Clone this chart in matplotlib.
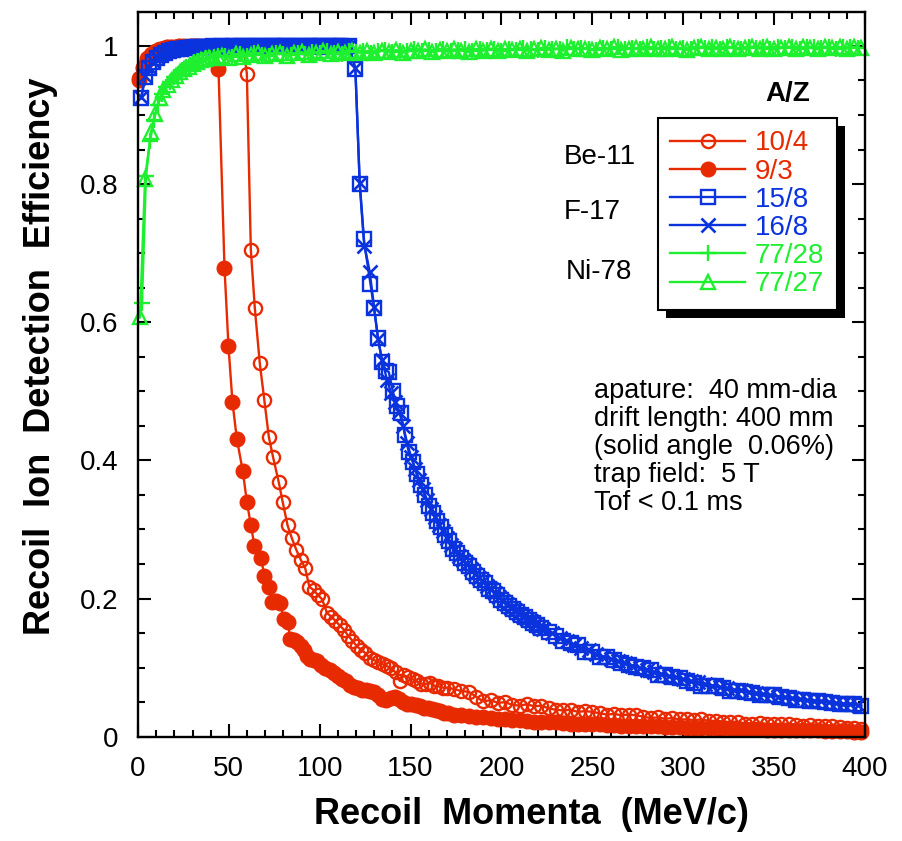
import numpy as np
import matplotlib
matplotlib.use('Agg')
import matplotlib.pyplot as plt
from matplotlib.patches import Rectangle
from matplotlib.ticker import MultipleLocator, FuncFormatter

plt.rcParams['font.family'] = ['Liberation Sans', 'DejaVu Sans']

# values
# recoil momentum (MeV/c) -> recoil ion detection efficiency

# Be-11, A/Z = 10/4 (open circles)
p_104 = [0.7, 2.9, 5.1, 7.3, 9.5, 11.7, 13.9, 16.1, 18.3, 20.5,
         22.7, 24.9, 27.1, 29.3, 31.5, 33.7, 35.9, 38.1, 40.3, 42.5,
         44.7, 46.9, 49.1, 51.3, 53.5, 55.7, 57.9,
         59.9, 62.1, 64.3, 67.0, 69.5, 72.0, 74.3, 77.4, 79.6, 82.3,
         84.7, 87.2, 89.6, 92.0, 94.3, 96.8, 99.0, 101.3, 104.0, 106.3,
         108.6, 111.0, 113.3, 115.7, 118.0, 120.4, 122.8, 125.1, 127.5, 129.9,
         132.2, 134.6, 137.0, 139.3, 141.7, 144.0, 146.4, 148.8, 151.1, 153.5,
         155.9, 158.2, 160.6, 163.0, 165.3, 167.7, 170.0] + list(range(174, 400, 4))
eff_104 = [0.954, 0.970, 0.982, 0.988, 0.992, 0.995, 0.997, 0.998, 0.999, 0.999,
           1.000, 0.999, 1.000, 1.000, 1.000, 0.999, 1.000, 1.000, 1.000, 1.000,
           0.999, 1.000, 1.000, 1.000, 1.000, 0.999, 1.000,
           0.960, 0.705, 0.620, 0.541, 0.487, 0.434, 0.405, 0.369, 0.340, 0.306,
           0.287, 0.270, 0.256, 0.244, 0.217, 0.212, 0.205, 0.199, 0.179, 0.174,
           0.168, 0.161, 0.155, 0.146, 0.139, 0.131, 0.126, 0.121, 0.114, 0.111,
           0.108, 0.105, 0.102, 0.099, 0.093, 0.081, 0.089, 0.086, 0.083, 0.080,
           0.077, 0.076, 0.078, 0.074, 0.073, 0.071, 0.071,
           0.069, 0.066, 0.065, 0.058, 0.051, 0.053, 0.049, 0.050, 0.046, 0.045,
           0.047, 0.044, 0.045, 0.041, 0.039, 0.038, 0.039, 0.036, 0.037, 0.036,
           0.034, 0.032, 0.033, 0.031, 0.032, 0.031, 0.029, 0.027, 0.028, 0.026,
           0.027, 0.025, 0.025, 0.024, 0.025, 0.023, 0.023, 0.022, 0.021, 0.022,
           0.019, 0.019, 0.020, 0.018, 0.019, 0.018, 0.019, 0.017, 0.016, 0.017,
           0.016, 0.015, 0.015, 0.014, 0.013, 0.013, 0.011]

# A/Z = 9/3 (filled circles)
p_93 = [0.7, 2.9, 5.1, 7.3, 9.5, 11.7, 13.9, 16.1, 18.3, 20.5,
        22.7, 24.9, 27.1, 29.3, 31.5, 33.7, 35.9, 38.1, 40.3, 42.1,
        44.3, 47.6, 49.8, 52.0, 54.4, 57.7, 59.9, 62.1, 64.1, 67.6,
        69.6, 72.2, 73.7, 76.0, 78.3, 80.1, 82.3, 83.8, 86.0, 87.5,
        89.5, 91.1, 93.0, 94.9, 96.8, 98.5, 100.8, 103.1, 105.4, 107.7,
        110.0, 112.2, 114.5, 116.7, 118.7, 121.0, 123.3, 125.5, 127.7, 129.7,
        132.0, 134.2, 136.5, 139.0, 141.2, 143.5, 145.8, 148.1, 150.4, 152.7,
        155.0, 157.3, 159.5, 161.8, 164.0, 166.3, 168.5, 170.8] + list(range(174, 400, 4))
eff_93 = [0.950, 0.968, 0.980, 0.987, 0.991, 0.994, 0.996, 0.998, 0.999, 0.999,
          1.000, 1.000, 0.999, 1.000, 1.000, 1.000, 0.999, 1.000, 1.000, 1.000,
          0.967, 0.679, 0.565, 0.484, 0.431, 0.384, 0.340, 0.306, 0.276, 0.259,
          0.233, 0.217, 0.195, 0.197, 0.193, 0.171, 0.166, 0.142, 0.140, 0.137,
          0.131, 0.125, 0.117, 0.113, 0.111, 0.109, 0.104, 0.099, 0.096, 0.092,
          0.088, 0.083, 0.081, 0.075, 0.072, 0.071, 0.068, 0.068, 0.066, 0.065,
          0.060, 0.054, 0.053, 0.056, 0.057, 0.054, 0.050, 0.048, 0.047, 0.046,
          0.044, 0.042, 0.041, 0.040, 0.039, 0.037, 0.035, 0.034,
          0.032, 0.031, 0.030, 0.029, 0.028, 0.027, 0.026, 0.025, 0.024, 0.024,
          0.023, 0.022, 0.022, 0.021, 0.021, 0.020, 0.019, 0.019, 0.018, 0.018,
          0.018, 0.017, 0.017, 0.016, 0.016, 0.016, 0.015, 0.015, 0.015, 0.014,
          0.014, 0.014, 0.013, 0.013, 0.013, 0.012, 0.012, 0.012, 0.012, 0.011,
          0.011, 0.011, 0.011, 0.010, 0.010, 0.010, 0.010, 0.009, 0.009, 0.009,
          0.009, 0.008, 0.008, 0.008, 0.008, 0.007, 0.007]

# F-17, A/Z = 15/8 (squares) and 16/8 (crosses)
p_blue_flat = [1.8, 4.0, 6.2, 8.4, 10.6, 12.8, 15.0, 17.2, 19.4, 21.6,
               23.8, 26.0, 28.2, 30.4, 32.6, 34.8, 37.0, 39.2, 41.4, 43.6,
               45.8, 48.0, 50.2, 52.4, 54.6, 56.8, 59.0, 61.2, 63.4, 65.6,
               67.8, 70.0, 72.2, 74.4, 76.6, 78.8, 81.0, 83.2, 85.4, 87.6,
               89.8, 92.0, 94.2, 96.4, 98.6, 100.8, 103.0, 105.2, 107.4, 109.6,
               111.8, 114.0, 116.2]

p_158 = p_blue_flat + [
    119.6, 122.0, 124.2, 127.9, 129.9, 132.1, 134.3, 136.4, 138.0, 140.2,
    142.4, 144.6, 146.8, 149.0, 151.2, 153.4, 155.6, 157.8, 160.0, 162.2,
    164.4, 166.6, 168.8, 171.0, 173.2, 175.4, 177.6, 179.8, 182.0, 184.2,
    186.4, 188.6, 190.8, 193.0, 195.2, 197.4, 199.6, 201.8, 204.0, 206.2,
    208.4, 210.6, 212.8, 215.0, 217.2, 219.4, 221.6] + list(range(226, 400, 4))
eff_158 = [0.924, 0.955, 0.968, 0.977, 0.983, 0.987, 0.990, 0.992, 0.994, 0.995,
           0.996, 0.997, 0.997, 0.998, 0.998, 0.999, 0.999, 0.999, 1.000, 0.999,
           1.000, 0.999, 1.000, 1.000, 0.999, 1.000, 1.000, 1.000, 0.999, 1.000,
           1.000, 1.000, 0.999, 1.000, 1.000, 1.000, 1.000, 0.999, 1.000, 1.000,
           1.000, 0.999, 1.000, 1.000, 1.000, 1.000, 0.999, 1.000, 1.000, 1.000,
           1.000, 0.999, 1.000,
           0.966, 0.800, 0.720, 0.656, 0.620, 0.577, 0.543, 0.530, 0.528, 0.500,
           0.478, 0.468, 0.437, 0.412, 0.398, 0.380, 0.364, 0.350, 0.334, 0.324,
           0.312, 0.303, 0.292, 0.283, 0.272, 0.266, 0.259, 0.252, 0.247, 0.239,
           0.233, 0.227, 0.222, 0.214, 0.211, 0.205, 0.198, 0.193, 0.189, 0.185,
           0.181, 0.176, 0.173, 0.169, 0.165, 0.162, 0.158,
           0.152, 0.146, 0.139, 0.135, 0.133, 0.122, 0.122, 0.116, 0.115, 0.111,
           0.107, 0.104, 0.101, 0.099, 0.097, 0.089, 0.089, 0.086, 0.085, 0.080,
           0.078, 0.074, 0.074, 0.073, 0.070, 0.066, 0.066, 0.065, 0.063, 0.060,
           0.060, 0.060, 0.057, 0.056, 0.053, 0.053, 0.052, 0.052, 0.050, 0.049,
           0.047, 0.047, 0.047, 0.045]

p_168 = p_blue_flat + [
    119.6, 122.0, 124.6, 127.5, 129.9, 132.1, 134.3, 137.1, 139.3, 141.5,
    143.7, 145.9, 148.1, 150.3, 152.5, 154.7, 156.9, 159.1, 161.3, 163.5,
    165.7, 167.9, 170.1, 172.3, 174.5, 176.7, 178.9, 181.1, 183.3, 185.5,
    187.7, 189.9, 192.1, 194.3, 196.5, 198.7, 200.9, 203.1, 205.3, 207.5,
    209.7, 211.9, 214.1, 216.3, 218.5, 220.7, 222.9] + list(range(228, 400, 4))
eff_168 = [0.926, 0.957, 0.970, 0.978, 0.984, 0.988, 0.991, 0.993, 0.994, 0.996,
           0.996, 0.997, 0.998, 0.998, 0.999, 0.999, 0.999, 1.000, 0.999, 1.000,
           1.000, 1.000, 0.999, 1.000, 1.000, 1.000, 0.999, 1.000, 1.000, 1.000,
           0.999, 1.000, 1.000, 1.000, 1.000, 1.000, 0.999, 1.000, 1.000, 1.000,
           1.000, 1.000, 0.999, 1.000, 1.000, 1.000, 1.000, 1.000, 0.999, 1.000,
           1.000, 1.000, 1.000,
           0.968, 0.802, 0.711, 0.673, 0.622, 0.575, 0.545, 0.516, 0.497, 0.484,
           0.470, 0.450, 0.425, 0.405, 0.388, 0.372, 0.358, 0.342, 0.330, 0.318,
           0.306, 0.298, 0.288, 0.278, 0.271, 0.262, 0.256, 0.250, 0.243, 0.236,
           0.230, 0.225, 0.218, 0.214, 0.208, 0.202, 0.196, 0.192, 0.187, 0.183,
           0.178, 0.175, 0.171, 0.167, 0.163, 0.159, 0.156,
           0.150, 0.143, 0.139, 0.133, 0.128, 0.125, 0.120, 0.116, 0.112, 0.109,
           0.106, 0.103, 0.100, 0.097, 0.094, 0.091, 0.088, 0.086, 0.083, 0.081,
           0.079, 0.076, 0.074, 0.072, 0.070, 0.068, 0.067, 0.065, 0.063, 0.062,
           0.060, 0.058, 0.057, 0.056, 0.054, 0.053, 0.052, 0.051, 0.050, 0.049,
           0.048, 0.047, 0.046]

# Ni-78, A/Z = 77/28 (plus) and 77/27 (triangles)
p_7728 = [2.2, 4.4, 6.6, 8.8, 11.0, 13.2, 15.4, 17.6, 19.8, 22.0,
          24.2, 26.4, 28.6, 30.8, 33.0, 35.2, 37.4, 39.6, 41.8, 44.0] + list(range(48, 400, 4))
eff_7728 = [0.628, 0.812, 0.862, 0.893, 0.915, 0.930, 0.940, 0.948, 0.955, 0.960,
            0.965, 0.969, 0.973, 0.976, 0.978, 0.980, 0.982, 0.983, 0.984, 0.985,
            0.986, 0.984, 0.988, 0.985, 0.989, 0.987, 0.986, 0.990, 0.988, 0.987,
            0.990, 0.988, 0.991, 0.989, 0.992, 0.990, 0.988, 0.992, 0.991, 0.993,
            0.990, 0.992, 0.994, 0.991, 0.993, 0.992, 0.995, 0.992, 0.994, 0.993,
            0.995, 0.992, 0.994, 0.996, 0.993, 0.995, 0.994, 0.996, 0.993, 0.996,
            0.994, 0.997, 0.995, 0.994, 0.997, 0.995, 0.996, 0.998, 0.995, 0.997,
            0.996, 0.994, 0.997, 0.996, 0.998, 0.995, 0.997, 0.996, 0.998, 0.995,
            0.997, 0.999, 0.996, 0.997, 0.995, 0.998, 0.997, 0.999, 0.996, 0.998,
            0.997, 0.996, 0.999, 0.997, 0.998, 0.996, 0.999, 0.997, 0.998, 0.996,
            0.998, 0.999, 0.997, 0.998, 0.996, 0.999, 0.998, 0.997]

p_7727 = [1.1, 3.9, 7.2, 9.4, 12.1, 14.0, 16.3, 18.6, 20.9, 23.2,
          25.5, 27.8, 30.1, 32.4, 34.7, 37.0, 39.3, 41.6, 43.9, 46.2] + list(range(50, 400, 4))
eff_7727 = [0.607, 0.808, 0.875, 0.902, 0.924, 0.936, 0.944, 0.950, 0.956, 0.962,
            0.966, 0.970, 0.974, 0.977, 0.979, 0.981, 0.982, 0.983, 0.984, 0.985,
            0.983, 0.988, 0.984, 0.987, 0.989, 0.985, 0.988, 0.990, 0.986, 0.989,
            0.991, 0.987, 0.990, 0.992, 0.988, 0.991, 0.989, 0.993, 0.990, 0.992,
            0.989, 0.993, 0.991, 0.994, 0.990, 0.993, 0.992, 0.995, 0.991, 0.994,
            0.992, 0.995, 0.993, 0.991, 0.995, 0.993, 0.996, 0.992, 0.995, 0.994,
            0.996, 0.993, 0.995, 0.997, 0.994, 0.996, 0.993, 0.997, 0.995, 0.996,
            0.994, 0.997, 0.995, 0.998, 0.994, 0.996, 0.997, 0.995, 0.998, 0.996,
            0.995, 0.998, 0.996, 0.994, 0.997, 0.999, 0.995, 0.997, 0.996, 0.998,
            0.995, 0.997, 0.999, 0.996, 0.998, 0.995, 0.997, 0.999, 0.996, 0.998,
            0.997, 0.995, 0.999, 0.997, 0.998, 0.996, 0.999, 0.997]

red = '#e82a00'
blue = '#0b33dd'
green = '#1ef030'

fig = plt.figure(figsize=(9.03, 8.41), dpi=100)
ax = fig.add_axes([0.1528, 0.1240, 0.8051, 0.8617])

lw = 1.7
mw = 1.7
ax.plot(p_104, eff_104, '-', color=red, lw=lw, marker='o', ms=9.5, mfc='none',
        mec=red, mew=mw, label='10/4', clip_on=False)
ax.plot(p_93, eff_93, '-', color=red, lw=lw, marker='o', ms=10.5, mfc=red,
        mec=red, label='9/3', clip_on=False)
ax.plot(p_158, eff_158, '-', color=blue, lw=lw, marker='s', ms=9.5, mfc='none',
        mec=blue, mew=mw, label='15/8', clip_on=False)
ax.plot(p_168, eff_168, '-', color=blue, lw=lw, marker='x', ms=10,
        mec=blue, mew=1.9, label='16/8', clip_on=False)
ax.plot(p_7728, eff_7728, '-', color=green, lw=lw, marker='+', ms=11.5,
        mec=green, mew=mw, label='77/28', clip_on=False)
ax.plot(p_7727, eff_7727, '-', color=green, lw=lw, marker='^', ms=9.5, mfc='none',
        mec=green, mew=mw, label='77/27', clip_on=False)

ax.set_xlim(0, 400)
ax.set_ylim(0, 1.049)
ax.xaxis.set_major_locator(MultipleLocator(50))
ax.xaxis.set_minor_locator(MultipleLocator(10))
ax.yaxis.set_major_locator(MultipleLocator(0.2))
ax.yaxis.set_minor_locator(MultipleLocator(0.05))
ax.yaxis.set_major_formatter(FuncFormatter(lambda v, _: '%g' % round(v, 2)))
ax.tick_params(which='both', direction='in', top=True, right=True, width=1.5,
               labelsize=20)
ax.tick_params(which='major', length=9.5, pad=14)
ax.tick_params(which='minor', length=5)
for s in ax.spines.values():
    s.set_linewidth(1.7)

ax.set_xlabel('Recoil  Momenta  (MeV/c)', fontsize=26, fontweight='bold')
ax.set_ylabel('Recoil  Ion  Detection  Efficiency', fontsize=26, fontweight='bold')
ax.xaxis.set_label_coords(0.5406, -0.083)
ax.yaxis.set_label_coords(-0.110, 0.525)

ax.text(234.3, 0.839, 'Be-11', fontsize=20, va='center', ha='left')
ax.text(234.3, 0.759, 'F-17', fontsize=20, va='center', ha='left')
ax.text(235.4, 0.672, 'Ni-78', fontsize=20, va='center', ha='left')
ax.text(357.2, 0.931, 'A/Z', fontsize=20, fontweight='bold', va='center', ha='center')
ax.text(250.8, 0.420,
        'apature:  40 mm-dia\ndrift length: 400 mm\n(solid angle  0.06%)\n'
        'trap field:  5 T\nTof < 0.1 ms',
        fontsize=19.5, va='center', ha='left', linespacing=1.1)

leg = ax.legend(loc='upper left', bbox_to_anchor=(0.715, 0.854), borderaxespad=0,
                fancybox=False, framealpha=1, edgecolor='black', fontsize=20,
                handlelength=2.7, handletextpad=0.35, borderpad=0.45,
                labelspacing=0.08, labelcolor='linecolor')
leg.get_frame().set_linewidth(1.5)
leg.set_zorder(6)

# black drop shadow behind the legend box
fig.canvas.draw()
bb = leg.get_window_extent().transformed(ax.transAxes.inverted())
dx = 8 / (0.8051 * 903)
dy = 8 / (0.8617 * 841)
ax.add_patch(Rectangle((bb.x0 + dx, bb.y0 - dy), bb.width, bb.height,
                       transform=ax.transAxes, facecolor='black', edgecolor='none',
                       zorder=5.9, clip_on=False))

fig.savefig('out.png', dpi=100)
